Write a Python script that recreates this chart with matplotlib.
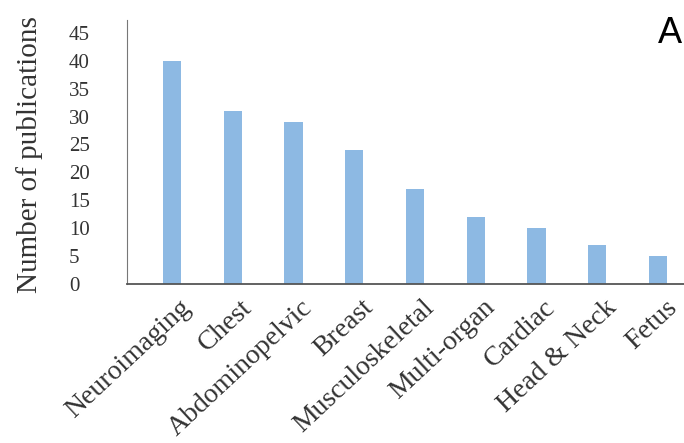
import matplotlib
matplotlib.use('Agg')
import matplotlib.pyplot as plt
import matplotlib.transforms as mtransforms

categories = ['Neuroimaging', 'Chest', 'Abdominopelvic', 'Breast', 'Musculoskeletal',
              'Multi-organ', 'Cardiac', 'Head & Neck', 'Fetus']
publications = [40, 31, 29, 24, 17, 12, 10, 7, 5]
yticks = [0, 5, 10, 15, 20, 25, 30, 35, 40, 45]

plt.rcParams['font.family'] = ['Liberation Serif', 'DejaVu Serif']

fig = plt.figure(figsize=(6.84, 4.43), dpi=100)
ax = fig.add_axes([0.186, 0.359, 0.814, 0.596])

x = list(range(len(categories)))
ax.bar(x, publications, width=0.3, color='#8db9e3')

ax.set_xlim(-0.74, 8.43)
ax.set_ylim(0, 47.3)
ax.set_yticks(yticks)
ax.set_yticklabels([str(t) for t in yticks], fontsize=15, color='#333333', ha='left')
ax.set_xticks(x)
ax.set_xticklabels(categories, rotation=43, ha='right', rotation_mode='anchor',
                   fontsize=20, color='#333333')
ax.tick_params(axis='both', length=0)
ax.tick_params(axis='y', pad=42)
ax.tick_params(axis='x', pad=8)

# nudge x labels a little to the right like the original
shift = mtransforms.ScaledTranslation(7 / 100, 0, fig.dpi_scale_trans)
for lbl in ax.get_xticklabels():
    lbl.set_transform(lbl.get_transform() + shift)

ax.spines['top'].set_visible(False)
ax.spines['right'].set_visible(False)
ax.spines['left'].set_color('#777777')
ax.spines['bottom'].set_color('#555555')
ax.spines['bottom'].set_linewidth(1.3)

ax.set_ylabel('Number of publications', fontsize=21, color='#333333')
ax.yaxis.set_label_coords(-0.152, 0.49)

fig.text(0.98, 0.925, 'A', fontsize=26, family='Liberation Sans', ha='center', va='center')

fig.savefig('out.png', dpi=100)
